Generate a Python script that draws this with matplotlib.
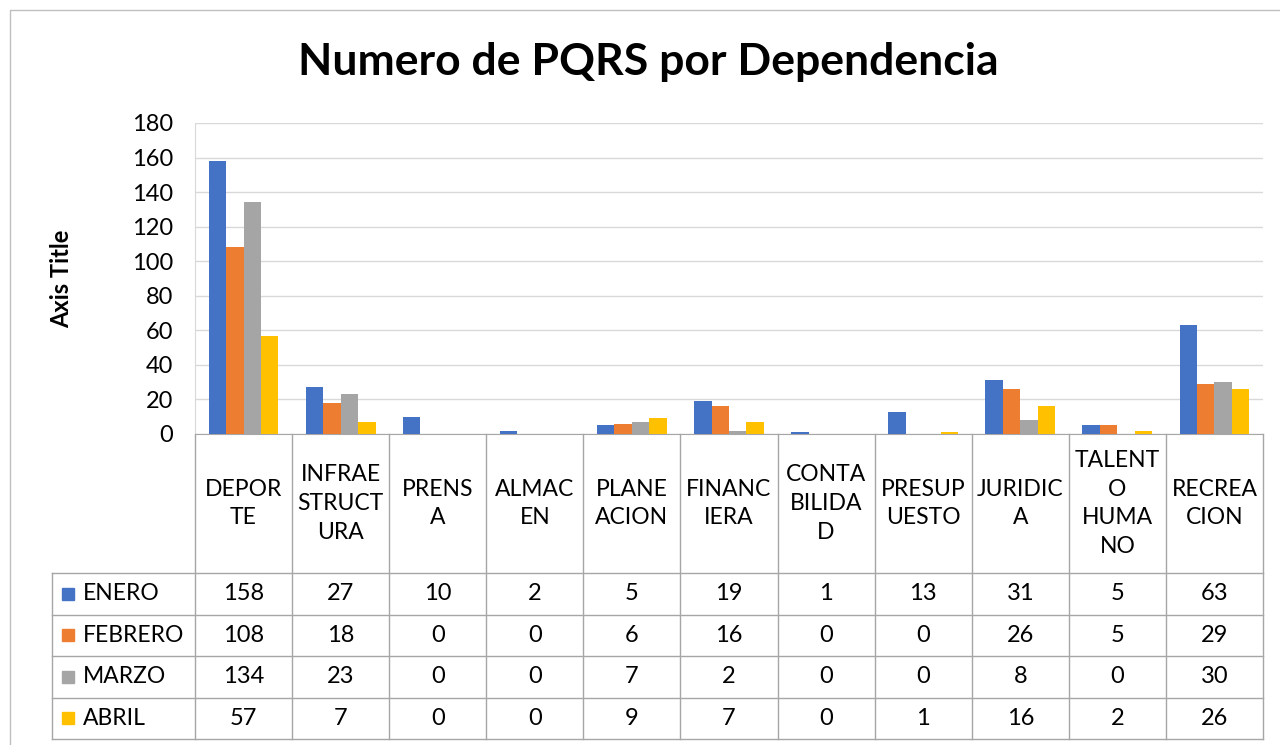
import matplotlib.pyplot as plt
import matplotlib.transforms as mtransforms
from matplotlib.patches import Rectangle
import numpy as np

plt.rcParams['font.family'] = ['Lato', 'DejaVu Sans']

categories = ['DEPORTE', 'INFRAESTRUCTURA', 'PRENSA', 'ALMACEN', 'PLANEACION', 'FINANCIERA',
              'CONTABILIDAD', 'PRESUPUESTO', 'JURIDICA', 'TALENTO HUMANO', 'RECREACION']
cat_labels = ['DEPOR\nTE', 'INFRAE\nSTRUCT\nURA', 'PRENS\nA', 'ALMAC\nEN', 'PLANE\nACION',
              'FINANC\nIERA', 'CONTA\nBILIDA\nD', 'PRESUP\nUESTO', 'JURIDIC\nA',
              'TALENT\nO\nHUMA\nNO', 'RECREA\nCION']
months = ['ENERO', 'FEBRERO', 'MARZO', 'ABRIL']
enero = [158, 27, 10, 2, 5, 19, 1, 13, 31, 5, 63]
febrero = [108, 18, 0, 0, 6, 16, 0, 0, 26, 5, 29]
marzo = [134, 23, 0, 0, 7, 2, 0, 0, 8, 0, 30]
abril = [57, 7, 0, 0, 9, 7, 0, 1, 16, 2, 26]
series = [enero, febrero, marzo, abril]
colors = ['#4472C4', '#ED7D31', '#A5A5A5', '#FFC000']
line_col = '#A6A6A6'

W, H = 1280, 745
fig = plt.figure(figsize=(W / 100, H / 100), dpi=100)
fig.patches.append(Rectangle((10 / W, -0.1), 1.2, 1 - 10 / H + 0.1, transform=fig.transFigure,
                             fill=False, edgecolor='#BFBFBF', lw=1))

left, right, top, bottom = 195, 1263, 123, 434
ax = fig.add_axes([left / W, 1 - bottom / H, (right - left) / W, (bottom - top) / H])

n = len(categories)
x = np.arange(n)
bw = 0.18
for i, (vals, c) in enumerate(zip(series, colors)):
    ax.bar(x + (i - 1.5) * bw, vals, width=bw, color=c, zorder=3)

ax.set_xlim(-0.5, n - 0.5)
ax.set_ylim(0, 180)
ax.set_yticks(range(0, 181, 20))
ax.tick_params(axis='y', length=0, labelsize=17, pad=16)
ax.set_xticks([])
ax.grid(axis='y', color='#D9D9D9', lw=1, zorder=0)
for s in ['top', 'right']:
    ax.spines[s].set_visible(False)
ax.spines['left'].set_color('#D9D9D9')
ax.spines['bottom'].set_color(line_col)
ax.set_ylabel('Axis Title', fontsize=17, fontweight='bold', labelpad=42)

fig.text(648 / W, 1 - 62 / H, 'Numero de PQRS por Dependencia', fontsize=32,
         fontweight='bold', ha='center', va='center')

# data table below the axes
ph = bottom - top
trans = mtransforms.blended_transform_factory(ax.transData, ax.transAxes)
label_bot = -(573 - bottom) / ph
row_h = 41.5 / ph
table_bot = label_bot - 4 * row_h
x_tab_left = -0.5 - (left - 52) / ((right - left) / n)

# vertical lines
for k in range(n + 1):
    ax.plot([k - 0.5, k - 0.5], [0, table_bot], transform=trans, color=line_col,
            lw=1, clip_on=False)
ax.plot([x_tab_left, x_tab_left], [label_bot, table_bot], transform=trans,
        color=line_col, lw=1, clip_on=False)
# horizontal lines
for r in range(5):
    y = label_bot - r * row_h
    ax.plot([x_tab_left, n - 0.5], [y, y], transform=trans, color=line_col,
            lw=1, clip_on=False)

for k, lab in enumerate(cat_labels):
    ax.text(k, label_bot / 2, lab, transform=trans, ha='center', va='center',
            fontsize=16.5, linespacing=1.45, clip_on=False)

xpx = (right - left) / n
for r, (m, vals, c) in enumerate(zip(months, series, colors)):
    yc = label_bot - (r + 0.5) * row_h
    sq_x = x_tab_left + (62 - 52) / xpx
    ax.add_patch(Rectangle((sq_x, yc - 6 / ph), 12 / xpx, 12 / ph, transform=trans,
                           color=c, clip_on=False))
    ax.text(x_tab_left + (83 - 52) / xpx, yc, m, transform=trans, ha='left', va='center',
            fontsize=16.5, clip_on=False)
    for k, v in enumerate(vals):
        ax.text(k, yc, str(v), transform=trans, ha='center', va='center',
                fontsize=17, clip_on=False)

fig.savefig('out.png', dpi=100)
